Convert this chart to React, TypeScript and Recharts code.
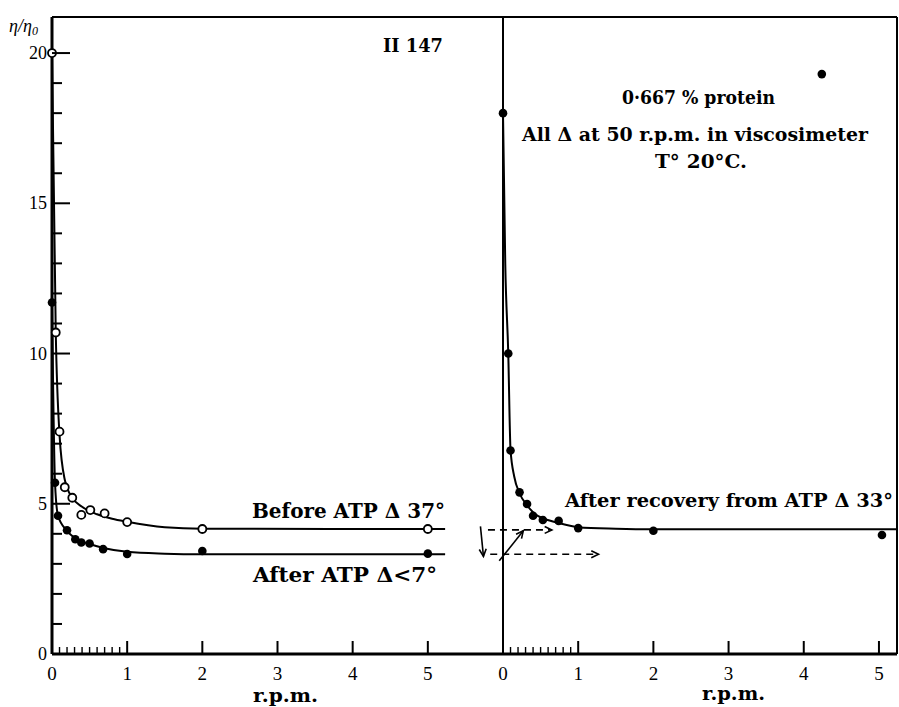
import React from "react";
import { ComposedChart, Line, Scatter, XAxis, YAxis, ReferenceLine } from "recharts";

// tick values
const xTicks = [0, 0.1, 0.2, 0.3, 0.4, 0.5, 0.6, 0.7, 0.8, 0.9, 1, 2, 3, 4, 5];
const topTicks = [1, 2, 3, 4, 5];
const yTicks = [0, 1, 2, 3, 4, 5, 6, 7, 8, 9, 10, 11, 12, 13, 14, 15, 16, 17, 18, 19, 20];

// left panel: open circles (Before ATP)
const beforePoints = [
  { x: 0, y: 20 },
  { x: 0.05, y: 10.7 },
  { x: 0.1, y: 7.4 },
  { x: 0.17, y: 5.55 },
  { x: 0.27, y: 5.2 },
  { x: 0.39, y: 4.63 },
  { x: 0.51, y: 4.79 },
  { x: 0.7, y: 4.68 },
  { x: 1.0, y: 4.39 },
  { x: 2.0, y: 4.16 },
  { x: 5.0, y: 4.16 },
];
const beforeCurve = [
  { x: 0, y: 20 },
  { x: 0.05, y: 10.7 },
  { x: 0.1, y: 7.3 },
  { x: 0.17, y: 5.8 },
  { x: 0.27, y: 5.2 },
  { x: 0.4, y: 4.9 },
  { x: 0.6, y: 4.65 },
  { x: 0.8, y: 4.5 },
  { x: 1.0, y: 4.4 },
  { x: 1.5, y: 4.22 },
  { x: 2.0, y: 4.17 },
  { x: 5.23, y: 4.16 },
];

// left panel: filled circles (After ATP)
const afterPoints = [
  { x: 0, y: 11.7 },
  { x: 0.04, y: 5.7 },
  { x: 0.08, y: 4.6 },
  { x: 0.2, y: 4.12 },
  { x: 0.31, y: 3.82 },
  { x: 0.39, y: 3.71 },
  { x: 0.5, y: 3.68 },
  { x: 0.68, y: 3.49 },
  { x: 1.0, y: 3.33 },
  { x: 2.0, y: 3.43 },
  { x: 5.0, y: 3.34 },
];
const afterCurve = [
  { x: 0, y: 11.7 },
  { x: 0.04, y: 5.7 },
  { x: 0.08, y: 4.6 },
  { x: 0.2, y: 4.1 },
  { x: 0.31, y: 3.85 },
  { x: 0.5, y: 3.66 },
  { x: 0.7, y: 3.52 },
  { x: 1.0, y: 3.4 },
  { x: 1.5, y: 3.34 },
  { x: 2.0, y: 3.32 },
  { x: 5.23, y: 3.32 },
];

// right panel: After recovery
const recoveryPoints = [
  { x: 0, y: 18.0 },
  { x: 0.07, y: 10.0 },
  { x: 0.1, y: 6.77 },
  { x: 0.22, y: 5.38 },
  { x: 0.32, y: 4.99 },
  { x: 0.4, y: 4.6 },
  { x: 0.53, y: 4.46 },
  { x: 0.74, y: 4.43 },
  { x: 1.0, y: 4.19 },
  { x: 2.0, y: 4.1 },
  { x: 5.04, y: 3.96 },
  { x: 4.24, y: 19.3 },
];
const recoveryCurve = [
  { x: 0, y: 18.0 },
  { x: 0.03, y: 13.0 },
  { x: 0.07, y: 10.0 },
  { x: 0.1, y: 6.8 },
  { x: 0.15, y: 5.9 },
  { x: 0.22, y: 5.35 },
  { x: 0.32, y: 4.95 },
  { x: 0.43, y: 4.65 },
  { x: 0.55, y: 4.5 },
  { x: 0.75, y: 4.35 },
  { x: 1.0, y: 4.22 },
  { x: 1.5, y: 4.17 },
  { x: 2.0, y: 4.15 },
  { x: 5.24, y: 4.15 },
];

// arrows drawn near the origin of the right panel
const arrows = [
  { x1: -0.2, y1: 4.13, x2: 0.65, y2: 4.13, dashed: true },
  { x1: -0.17, y1: 3.32, x2: 1.27, y2: 3.32, dashed: true },
  { x1: -0.3, y1: 4.25, x2: -0.26, y2: 3.25, dashed: false },
  { x1: -0.05, y1: 3.1, x2: 0.27, y2: 4.1, dashed: false },
];

const SERIF = "'Liberation Serif', 'DejaVu Serif', serif";
const WIDE = "'DejaVu Serif', serif";

const BottomTick = (props: any) => {
  const { x, y, payload } = props;
  const v = payload.value;
  const major = Number.isInteger(v);
  return (
    <g>
      <line x1={x} x2={x} y1={y} y2={y - (major ? 13 : 7)} stroke="#000" strokeWidth={major ? 2 : 1.4} />
      {major && (
        <text x={x} y={y + 26} textAnchor="middle" fontFamily={SERIF} fontSize={19} fill="#000">
          {v}
        </text>
      )}
    </g>
  );
};

const TopTick = (props: any) => {
  const { x, y } = props;
  return <line x1={x} x2={x} y1={y} y2={y + 15} stroke="#000" strokeWidth={2} />;
};

const LeftTick = (props: any) => {
  const { x, y, payload } = props;
  const v = payload.value;
  const major = v % 5 === 0;
  return (
    <g>
      <line x1={x} x2={x + (major ? 18 : 10)} y1={y} y2={y} stroke="#000" strokeWidth={2} />
      {major && (
        <text x={x - 5} y={y + 6} textAnchor="end" fontFamily={SERIF} fontSize={18} fill="#000">
          {v}
        </text>
      )}
    </g>
  );
};

const RightTick = (props: any) => {
  const { x, y, payload } = props;
  const major = payload.value % 5 === 0;
  if (payload.value === 0) return <g />;
  return <line x1={x} x2={x - (major ? 14 : 10)} y1={y} y2={y} stroke="#000" strokeWidth={2} />;
};

const openDot = (p: any) => (
  <circle cx={p.cx} cy={p.cy} r={4} fill="#fff" stroke="#000" strokeWidth={1.8} />
);
const filledDot = (p: any) => <circle cx={p.cx} cy={p.cy} r={4.3} fill="#000" />;

const arrowShape = (dashed: boolean) => (p: any) => {
  const { x1, y1, x2, y2 } = p;
  const a = Math.atan2(y2 - y1, x2 - x1);
  const len = 8;
  const h1x = x2 - len * Math.cos(a - 0.45);
  const h1y = y2 - len * Math.sin(a - 0.45);
  const h2x = x2 - len * Math.cos(a + 0.45);
  const h2y = y2 - len * Math.sin(a + 0.45);
  return (
    <g>
      <line x1={x1} y1={y1} x2={x2} y2={y2} stroke="#000" strokeWidth={1.6} strokeDasharray={dashed ? "7 5" : undefined} />
      <polyline points={`${h1x},${h1y} ${x2},${y2} ${h2x},${h2y}`} fill="none" stroke="#000" strokeWidth={1.6} />
    </g>
  );
};

const Note = ({ x, y, w, size, anchor, children }: any) => (
  <text
    x={x}
    y={y}
    fontSize={size}
    fontFamily={WIDE}
    fontWeight="bold"
    textAnchor={anchor || "start"}
    textLength={w}
    lengthAdjust="spacingAndGlyphs"
  >
    {children}
  </text>
);

export default function App() {
  return (
    <div style={{ position: "absolute", left: 0, top: 0, width: 899, height: 707, background: "#fff", overflow: "hidden" }}>
      <div style={{ position: "absolute", left: 0, top: 0 }}>
        <ComposedChart width={503} height={707} margin={{ top: 0, right: 0, bottom: 0, left: 0 }}>
          <XAxis
            dataKey="x"
            type="number"
            domain={[0, 6]}
            ticks={xTicks}
            interval={0}
            height={53}
            axisLine={{ stroke: "#000", strokeWidth: 3 }}
            tickLine={false}
            tickSize={0}
            tickMargin={0}
            tick={(p: any) => <BottomTick {...p} />}
          />
          <XAxis
            xAxisId="top"
            orientation="top"
            dataKey="x"
            type="number"
            domain={[0, 6]}
            ticks={topTicks}
            interval={0}
            height={17}
            axisLine={{ stroke: "#000", strokeWidth: 2 }}
            tickLine={false}
            tickSize={0}
            tickMargin={0}
            tick={(p: any) => <TopTick {...p} />}
          />
          <YAxis
            type="number"
            domain={[0, 21.2]}
            ticks={yTicks}
            interval={0}
            width={52}
            axisLine={{ stroke: "#000", strokeWidth: 3 }}
            tickLine={false}
            tickSize={0}
            tickMargin={0}
            tick={(p: any) => <LeftTick {...p} />}
          />
          <Line data={beforeCurve} dataKey="y" type="monotone" dot={false} stroke="#000" strokeWidth={2} isAnimationActive={false} />
          <Line data={afterCurve} dataKey="y" type="monotone" dot={false} stroke="#000" strokeWidth={2} isAnimationActive={false} />
          <Scatter data={afterPoints} dataKey="y" shape={filledDot} isAnimationActive={false} />
          <Scatter data={beforePoints} dataKey="y" shape={openDot} isAnimationActive={false} />
        </ComposedChart>
      </div>
      <div style={{ position: "absolute", left: 460, top: 0 }}>
        <ComposedChart width={439} height={707} margin={{ top: 0, right: 0, bottom: 0, left: 0 }}>
          <XAxis
            dataKey="x"
            type="number"
            domain={[0, 5.24]}
            ticks={xTicks}
            interval={0}
            height={53}
            axisLine={{ stroke: "#000", strokeWidth: 3 }}
            tickLine={false}
            tickSize={0}
            tickMargin={0}
            tick={(p: any) => <BottomTick {...p} />}
          />
          <XAxis
            xAxisId="top"
            orientation="top"
            dataKey="x"
            type="number"
            domain={[0, 5.24]}
            ticks={topTicks}
            interval={0}
            height={17}
            axisLine={{ stroke: "#000", strokeWidth: 2 }}
            tickLine={false}
            tickSize={0}
            tickMargin={0}
            tick={(p: any) => <TopTick {...p} />}
          />
          <YAxis
            type="number"
            domain={[0, 21.2]}
            width={43}
            axisLine={{ stroke: "#000", strokeWidth: 2 }}
            tickLine={false}
            tick={false}
          />
          <YAxis
            yAxisId="r"
            orientation="right"
            type="number"
            domain={[0, 21.2]}
            ticks={yTicks}
            interval={0}
            width={2}
            axisLine={{ stroke: "#000", strokeWidth: 2 }}
            tickLine={false}
            tickSize={0}
            tickMargin={0}
            tick={(p: any) => <RightTick {...p} />}
          />
          <Line data={recoveryCurve} dataKey="y" type="monotone" dot={false} stroke="#000" strokeWidth={2} isAnimationActive={false} />
          <Scatter data={recoveryPoints} dataKey="y" shape={filledDot} isAnimationActive={false} />
          {arrows.map((a, i) => (
            <ReferenceLine
              key={i}
              segment={[
                { x: a.x1, y: a.y1 },
                { x: a.x2, y: a.y2 },
              ]}
              ifOverflow="visible"
              shape={arrowShape(a.dashed)}
            />
          ))}
        </ComposedChart>
      </div>
      <svg width={899} height={707} style={{ position: "absolute", left: 0, top: 0, pointerEvents: "none" }}>
        <g fill="#000">
          <text x={9} y={32} fontSize={18} fontStyle="italic" fontFamily={SERIF}>
            η/η<tspan fontSize={12} dy={3}>0</tspan>
          </text>
          <Note x={383} y={52} w={60} size={18}>II 147</Note>
          <Note x={622} y={104} w={153} size={19}>0·667 % protein</Note>
          <Note x={522} y={141} w={346} size={19}>All Δ at 50 r.p.m. in viscosimeter</Note>
          <Note x={655} y={168} w={92} size={19}>T° 20°C.</Note>
          <Note x={252} y={518} w={193} size={20}>Before ATP Δ 37°</Note>
          <Note x={253} y={582} w={184} size={20}>After ATP Δ&lt;7°</Note>
          <Note x={565} y={507} w={328} size={19}>After recovery from ATP Δ 33°</Note>
          <Note x={253} y={702} w={65} size={19}>r.p.m.</Note>
          <Note x={702} y={700} w={63} size={19}>r.p.m.</Note>
        </g>
      </svg>
    </div>
  );
}
